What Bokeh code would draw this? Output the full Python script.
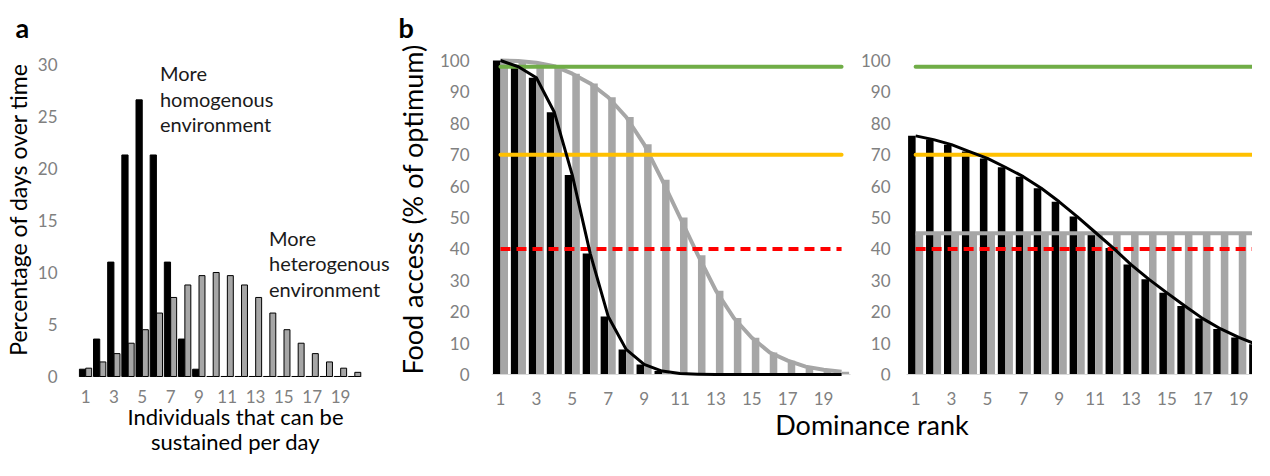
from bokeh.plotting import figure
from bokeh.models import Range1d, FixedTicker, Label, LinearAxis
from bokeh.layouts import row
from bokeh.embed import file_html
from bokeh.resources import INLINE
from bokeh.core.properties import value

FONT = "Lato"
TICK_GRAY = "#808080"
BAR_GRAY = "#a6a6a6"

# ---------------- data: panel a ----------------
a_categories = list(range(1, 21))
a_homogenous = [0.7, 3.6, 11.0, 21.3, 26.6, 21.3, 11.0, 3.6, 0.7, 0, 0, 0, 0, 0, 0, 0, 0, 0, 0, 0]
a_heterogenous = [0.8, 1.4, 2.2, 3.2, 4.5, 6.1, 7.6, 8.8, 9.7, 10.0, 9.7, 8.8, 7.6, 6.1, 4.5, 3.2, 2.2, 1.4, 0.8, 0.4]
a_tick_labels = ["1", "3", "5", "7", "9", "11", "13", "15", "17", "19"]
a_yticks = [0, 5, 10, 15, 20, 25, 30]

# ---------------- data: panel b ----------------
b_ranks = list(range(1, 21))
b_left_black = [100, 98, 94.5, 83.5, 63.5, 38.5, 18.5, 8, 3.2, 1.1, 0.3, 0.1, 0, 0, 0, 0, 0, 0, 0, 0]
b_left_gray = [100, 99.8, 99.3, 98.2, 95.8, 92.7, 88.3, 82, 73.3, 62, 50, 38, 26.7, 18, 11.7, 7, 4.4, 2.5, 1.5, 0.9]
b_right_black = [76, 74.8, 73.2, 71, 68.8, 66, 63, 59.3, 55, 50.3, 45.3, 40.3, 35, 30.3, 26, 21.8, 17.8, 14.5, 11.8, 9.6]
b_right_gray = [45] * 20
b_thresholds = [98, 70, 40]
b_threshold_colors = ["#70ad47", "#ffc000", "#ff0000"]
b_threshold_dash = ["solid", "solid", "10 6"]
b_tick_labels = ["1", "3", "5", "7", "9", "11", "13", "15", "17", "19"]
b_yticks = [0, 10, 20, 30, 40, 50, 60, 70, 80, 90, 100]

H = 460
TOP = 38
BOTTOM = 80


def style_title(p, text, offset):
    p.title.text = text
    p.title.align = "left"
    p.title.offset = offset
    p.title.standoff = -10
    p.title.text_font = FONT
    p.title.text_font_size = "27px"
    p.title.text_font_style = "bold"
    p.title.text_color = "black"
    p.title.text_line_height = 1.0


def style_axis(ax, label_size):
    ax.major_tick_line_color = None
    ax.minor_tick_line_color = None
    ax.axis_line_color = None
    ax.major_label_text_font = FONT
    ax.major_label_text_font_size = "17px"
    ax.major_label_text_color = TICK_GRAY
    ax.major_label_text_line_height = 1.0
    ax.axis_label_text_font = FONT
    ax.axis_label_text_font_style = "normal"
    ax.axis_label_text_font_size = label_size
    ax.axis_label_text_color = "#000000"
    ax.axis_label_text_line_height = 1.0


# ================= panel a =================
pa = figure(width=392, height=H, x_range=Range1d(0.5, 22.67), y_range=Range1d(-0.385, 32.5),
            output_backend="svg", toolbar_location=None,
            min_border_left=65, min_border_right=0, min_border_top=TOP, min_border_bottom=BOTTOM)
pa.outline_line_color = None
pa.grid.visible = False
style_title(pa, "a", -63)

pa.segment(x0=[0.5], y0=[0], x1=[20.5], y1=[0], line_color="#d9d9d9", line_width=1)
pa.vbar(x=[c - 0.22 for c in a_categories], top=a_homogenous, width=0.44,
        fill_color="black", line_color="black", line_width=1)
pa.vbar(x=[c + 0.22 for c in a_categories], top=a_heterogenous, width=0.42,
        fill_color=BAR_GRAY, line_color="black", line_width=1)

style_axis(pa.xaxis[0], "22px")
pa.xaxis.ticker = FixedTicker(ticks=[int(t) for t in a_tick_labels])
pa.xaxis.major_label_standoff = 3
pa.xaxis.axis_label = "Individuals that can be"
pa.xaxis.axis_label_standoff = -3

ax2 = LinearAxis(ticker=FixedTicker(ticks=[]))
style_axis(ax2, "22px")
ax2.major_label_standoff = 0
ax2.axis_label = "sustained per day"
ax2.axis_label_standoff = -5
pa.add_layout(ax2, "below")

style_axis(pa.yaxis[0], "23px")
pa.yaxis.ticker = FixedTicker(ticks=a_yticks)
pa.yaxis.major_label_standoff = 15
pa.yaxis.axis_label = "Percentage of days over time"
pa.yaxis.axis_label_standoff = 3

pa.add_layout(Label(x=6.25, y=26.7, text="More\nhomogenous\nenvironment",
                    text_font=FONT, text_font_size="20px", text_color="#1a1a1a",
                    text_align="left", text_baseline="middle", text_line_height=1.06))
pa.add_layout(Label(x=13.95, y=10.9, text="More\nheterogenous\nenvironment",
                    text_font=FONT, text_font_size="20px", text_color="#1a1a1a",
                    text_align="left", text_baseline="middle", text_line_height=1.06))

# ================= panel b =================
off = 23.125  # horizontal shift of the right-hand sub-panel (in category units)
pb = figure(width=860, height=H, x_range=Range1d(0.5, 42.89), y_range=Range1d(-1.91, 107.0),
            output_backend="svg", toolbar_location=None,
            min_border_left=97, min_border_right=0, min_border_top=TOP, min_border_bottom=BOTTOM)
pb.outline_line_color = None
pb.grid.visible = False
style_title(pb, "b", -93)

right_ranks = [r + off for r in b_ranks]

# bars
pb.vbar(x=[r - 0.21 for r in b_ranks], top=b_left_black, width=0.42, fill_color="black", line_color=None)
pb.vbar(x=[r + 0.21 for r in b_ranks], top=b_left_gray, width=0.42, fill_color=BAR_GRAY, line_color=None)
pb.vbar(x=[r - 0.21 for r in right_ranks], top=b_right_black, width=0.42, fill_color="black", line_color=None)
pb.vbar(x=[r + 0.21 for r in right_ranks], top=b_right_gray, width=0.42, fill_color=BAR_GRAY, line_color=None)

# baselines of the two sub-panels
pb.segment(x0=[0.5, 0.5 + off], y0=[0, 0], x1=[20.5, 20.5 + off], y1=[0, 0],
           line_color="#d9d9d9", line_width=1)

# gray curves
pb.line(b_ranks, b_left_gray, line_color=BAR_GRAY, line_width=4, line_join="round")
pb.line(right_ranks, b_right_gray, line_color=BAR_GRAY, line_width=4, line_join="round")

# threshold lines
for thr, col, dash in zip(b_thresholds, b_threshold_colors, b_threshold_dash):
    pb.segment(x0=[b_ranks[0], b_ranks[0] + off], y0=[thr, thr],
               x1=[b_ranks[-1], b_ranks[-1] + off], y1=[thr, thr],
               line_color=col, line_width=4, line_dash=dash,
               line_cap="round" if dash == "solid" else "butt")

# black curves
pb.line(b_ranks, b_left_black, line_color="black", line_width=3, line_join="round")
pb.line(right_ranks, b_right_black, line_color="black", line_width=3, line_join="round")

# x axis
left_ticks = [int(t) for t in b_tick_labels]
right_ticks = [t + off for t in left_ticks]
overrides = {}
for t, lab in zip(left_ticks, b_tick_labels):
    overrides[t] = lab
for t, lab in zip(right_ticks, b_tick_labels):
    overrides[t] = lab
style_axis(pb.xaxis[0], "27px")
pb.xaxis.ticker = FixedTicker(ticks=left_ticks + right_ticks)
pb.xaxis.major_label_overrides = overrides
pb.xaxis.major_label_standoff = 5
pb.xaxis.axis_label = "Dominance rank"
pb.xaxis.axis_label_standoff = 0

# left y axis
style_axis(pb.yaxis[0], "27px")
pb.yaxis.ticker = FixedTicker(ticks=b_yticks)
pb.yaxis.major_label_standoff = 16
pb.yaxis.axis_label = "Food access (% of optimum)"
pb.yaxis.axis_label_standoff = 8

# right sub-panel y tick labels
pb.text(x=[0.5 + off - 0.9] * len(b_yticks), y=b_yticks, text=[str(t) for t in b_yticks],
        text_font=value(FONT), text_font_size="17px", text_color=TICK_GRAY,
        text_align="right", text_baseline="middle")

layout = row(pa, pb)
open("out.html", "w").write(file_html(layout, INLINE))
